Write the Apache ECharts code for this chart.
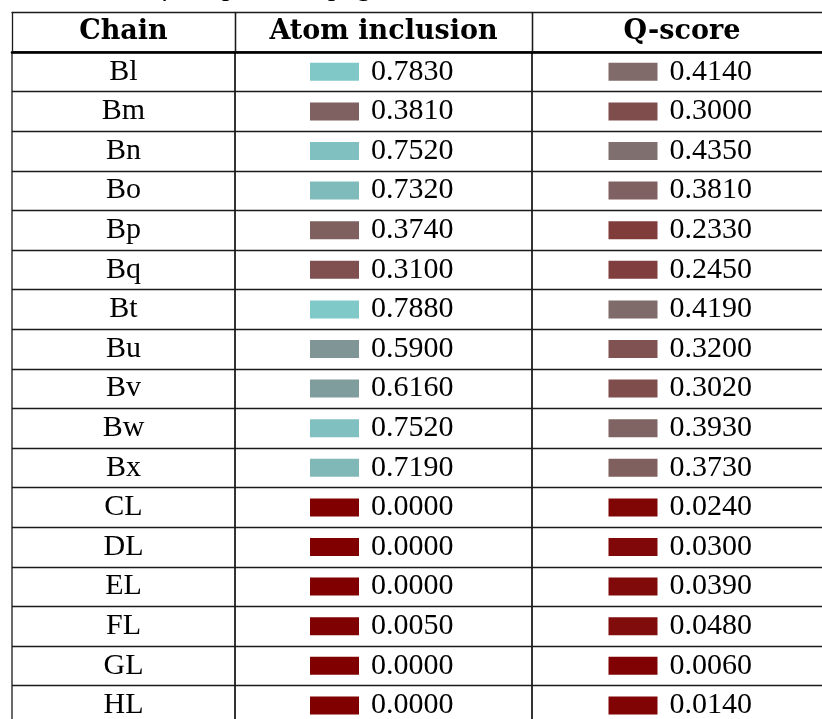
<!DOCTYPE html>
<html>
<head>
<meta charset="utf-8">
<script src="https://cdn.jsdelivr.net/npm/echarts@6/dist/echarts.min.js"></script>
<style>html,body{margin:0;padding:0;background:#fff;}#c{width:822px;height:719px;}</style>
</head>
<body>
<div id="c"></div>
<script>
const caption = 'Continued from previous page';
const headers = ['Chain', 'Atom inclusion', 'Q-score'];
const chains = ['Bl','Bm','Bn','Bo','Bp','Bq','Bt','Bu','Bv','Bw','Bx','CL','DL','EL','FL','GL','HL'];
const atomInclusion = [0.7830,0.3810,0.7520,0.7320,0.3740,0.3100,0.7880,0.5900,0.6160,0.7520,0.7190,0.0000,0.0000,0.0000,0.0050,0.0000,0.0000];
const qScore = [0.4140,0.3000,0.4350,0.3810,0.2330,0.2450,0.4190,0.3200,0.3020,0.3930,0.3730,0.0240,0.0300,0.0390,0.0480,0.0060,0.0140];

const chart = echarts.init(document.getElementById('c'), null, {renderer: 'canvas'});
const lineColor = '#1a1a1a';
const bodyFont = 'Liberation Serif';
const headFont = 'DejaVu Serif';
const rowH = 39.6;
const gridTop = 52;
const cols = [{left: 12, width: 223}, {left: 235, width: 297}, {left: 532, width: 300}];

const grids = cols.map(c => ({
  left: c.left, top: gridTop, width: c.width, height: rowH * chains.length,
  outerBoundsMode: 'none', containLabel: false,
  show: true, borderColor: lineColor, borderWidth: 1.3, backgroundColor: 'transparent'
}));

const xAxes = [];
const yAxes = [];
cols.forEach((c, i) => {
  xAxes.push({
    type: 'category', gridIndex: i, position: 'top', data: [headers[i]],
    axisLine: {show: true, lineStyle: {color: '#000', width: 2.6}},
    axisTick: {show: true, length: 40, lineStyle: {color: lineColor, width: 1.3}},
    axisLabel: {show: true, interval: 0, margin: 20, verticalAlign: 'middle',
      fontFamily: headFont, fontWeight: 'bold', fontSize: 27, color: '#000'},
    splitLine: {show: false}
  });
  xAxes.push({
    type: 'category', gridIndex: i, position: 'top', offset: 40, data: [headers[i]],
    axisLine: {show: true, lineStyle: {color: lineColor, width: 1.3}},
    axisTick: {show: false}, axisLabel: {show: false}, splitLine: {show: false}
  });
  yAxes.push({
    type: 'category', gridIndex: i, inverse: true, data: chains,
    axisLine: {show: false}, axisTick: {show: false},
    splitLine: {show: true, lineStyle: {color: lineColor, width: 1.3}},
    axisLabel: i === 0 ? {show: true, inside: true, interval: 0, margin: cols[0].width / 2,
      align: 'center', padding: [2, 0, 0, 0], fontFamily: bodyFont, fontSize: 30, color: '#000'} : {show: false}
  });
});

function cellSeries(colIdx, values) {
  return {
    type: 'scatter', xAxisIndex: colIdx * 2, yAxisIndex: colIdx,
    data: chains.map((ch, k) => [headers[colIdx], ch, values[k]]),
    symbol: 'rect', symbolSize: [49, 18], symbolOffset: [-49, 0],
    itemStyle: {opacity: 1},
    label: {show: true, position: 'right', distance: 12, padding: [3, 0, 0, 0],
      formatter: p => p.value[2].toFixed(4),
      fontFamily: bodyFont, fontSize: 30, color: '#000'},
    emphasis: {disabled: true}, animation: false
  };
}

chart.setOption({
  animation: false,
  title: {text: caption, left: 35, top: -27, padding: 0,
    textStyle: {fontFamily: bodyFont, fontStyle: 'italic', fontWeight: 'normal', fontSize: 29, color: '#000'}},
  grid: grids,
  xAxis: xAxes,
  yAxis: yAxes,
  visualMap: {type: 'continuous', show: false, min: 0, max: 1, dimension: 2,
    seriesIndex: [0, 1], inRange: {color: ['#800000', '#80ffff']}},
  series: [cellSeries(1, atomInclusion), cellSeries(2, qScore)]
});
</script>
</body>
</html>
